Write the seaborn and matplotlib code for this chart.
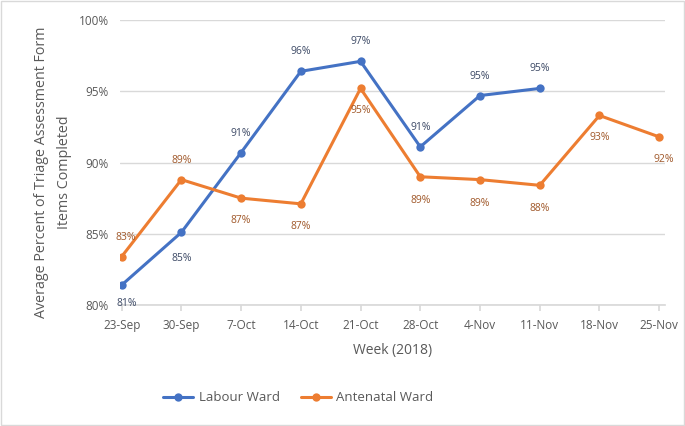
import matplotlib
matplotlib.use("Agg")
import matplotlib.pyplot as plt
import seaborn as sns
import pandas as pd
from matplotlib.ticker import FuncFormatter

weeks = ["23-Sep", "30-Sep", "7-Oct", "14-Oct", "21-Oct", "28-Oct", "4-Nov", "11-Nov", "18-Nov", "25-Nov"]
labour = [81.4, 85.1, 90.7, 96.4, 97.1, 91.1, 94.7, 95.2]
antenatal = [83.4, 88.8, 87.5, 87.1, 95.2, 89.0, 88.8, 88.4, 93.3, 91.8]
labour_labels = ["81%", "85%", "91%", "96%", "97%", "91%", "95%", "95%"]
antenatal_labels = ["83%", "89%", "87%", "87%", "95%", "89%", "89%", "88%", "93%", "92%"]
# label placement: +1 above, -1 below
labour_pos = [-1, -1, 1, 1, 1, 1, 1, 1]
antenatal_pos = [1, 1, -1, -1, -1, -1, -1, -1, -1, -1]

rows = []
for i, v in enumerate(labour):
    rows.append({"idx": i, "value": v, "Ward": "Labour Ward"})
for i, v in enumerate(antenatal):
    rows.append({"idx": i, "value": v, "Ward": "Antenatal Ward"})
df = pd.DataFrame(rows)

sns.set_theme(style="white")
plt.rcParams['font.family'] = ['Open Sans', 'DejaVu Sans']

fig = plt.figure(figsize=(6.85, 4.26), dpi=100)
ax = fig.add_axes([0.175, 0.284, 0.796, 0.669])

palette = {"Labour Ward": "#4472C4", "Antenatal Ward": "#ED7D31"}
sns.lineplot(data=df, x="idx", y="value", hue="Ward", palette=palette,
             marker="o", markersize=6, markeredgewidth=0, linewidth=2.2, ax=ax)

ax.set_ylim(80, 100)
ax.set_xlim(-0.03, 9.1)
ax.set_yticks([80, 85, 90, 95, 100])
ax.yaxis.set_major_formatter(FuncFormatter(lambda v, p: f"{int(v)}%"))
ax.set_xticks(range(len(weeks)))
ax.set_xticklabels(weeks)
ax.grid(axis="y", color="#d9d9d9", linewidth=1)
ax.set_axisbelow(True)
for s in ["top", "right", "left"]:
    ax.spines[s].set_visible(False)
ax.spines["bottom"].set_color("#d9d9d9")
ax.tick_params(axis="x", length=4, color="#d9d9d9", labelsize=8.5, labelcolor="#595959", pad=6, bottom=True)
ax.tick_params(axis="y", length=0, labelsize=8.5, labelcolor="#595959", pad=8)

ax.set_xlabel("Week (2018)", fontsize=10, color="#595959", labelpad=8)
ax.set_ylabel("Average Percent of Triage Assessment Form\nItems Completed", fontsize=10.3,
              color="#595959", linespacing=1.7)
ax.yaxis.set_label_coords(-0.088, 0.467)

for i, (v, t, p) in enumerate(zip(labour, labour_labels, labour_pos)):
    dy = 14 if p > 0 else -19
    if i == 0:
        dy = -13
    ax.annotate(t, (i, v), xytext=(4 if i == 0 else 0, dy),
                textcoords="offset points", ha="center", va="center",
                fontsize=7.5, color="#3D4A66")
for i, (v, t, p) in enumerate(zip(antenatal, antenatal_labels, antenatal_pos)):
    dx = 3 if i in (0, 9) else 0
    dy = 14 if p > 0 else -16
    if i == 5 or i == 6 or i == 7:
        dy = -17
    ax.annotate(t, (i, v), xytext=(dx, dy),
                textcoords="offset points", ha="center", va="center",
                fontsize=7.5, color="#A0582A")

leg = ax.legend(loc="center", bbox_to_anchor=(0.327, -0.326), ncol=2, frameon=False,
                fontsize=9.5, handlelength=2.3, handletextpad=0.4, columnspacing=1.6)
for txt in leg.get_texts():
    txt.set_color("#595959")

fig.patches.append(plt.Rectangle((0.002, 0.002), 0.996, 0.996, transform=fig.transFigure,
                                 fill=False, edgecolor="#d9d9d9", linewidth=1))
fig.savefig("out.png", dpi=100)
